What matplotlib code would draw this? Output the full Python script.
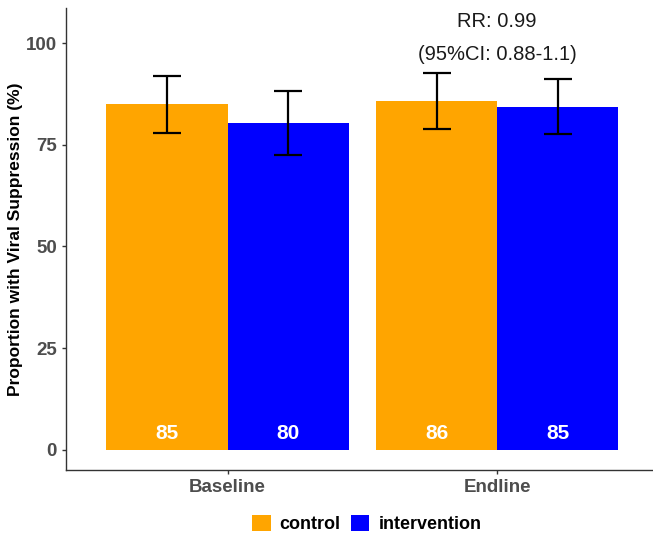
import matplotlib.pyplot as plt
from matplotlib.patches import Patch
import numpy as np

plt.rcParams['font.family'] = ['Liberation Sans', 'DejaVu Sans']

# data
periods = ["Baseline", "Endline"]
groups = ["control", "intervention"]
colors = {"control": "#FFA500", "intervention": "#0000FF"}
values = {"control": [85, 86], "intervention": [80, 85]}
shown = {"control": [85.0, 85.7], "intervention": [80.4, 84.4]}
err_low = {"control": [77.8, 78.8], "intervention": [72.6, 77.7]}
err_high = {"control": [92.0, 92.6], "intervention": [88.3, 91.1]}
rr_lines = ["RR: 0.99", "(95%CI: 0.88-1.1)"]

fig = plt.figure(figsize=(6.53, 5.37), dpi=100)
ax = fig.add_axes([0.101, 0.125, 0.908, 0.86])

narrow = ['Liberation Sans Narrow', 'Liberation Sans', 'DejaVu Sans']

x = np.arange(1, len(periods) + 1)
width = 0.45
for i, g in enumerate(groups):
    pos = x + (i - 0.5) * width
    h = np.array(shown[g])
    ax.bar(pos, h, width=width, color=colors[g], label=g, zorder=2)
    lo = h - np.array(err_low[g])
    hi = np.array(err_high[g]) - h
    ax.errorbar(pos, h, yerr=[lo, hi], fmt="none", ecolor="black",
                elinewidth=1.6, capsize=10, capthick=1.6, zorder=3)
    for p, v in zip(pos, values[g]):
        ax.text(p, 4, str(v), ha="center", va="center", color="white",
                fontsize=15, fontweight="bold", family=narrow, zorder=4)

ax.text(2, 105.2, rr_lines[0], ha="center", va="center", fontsize=14.5,
        color="#1a1a1a")
ax.text(2, 97.1, rr_lines[1], ha="center", va="center", fontsize=14.5,
        color="#1a1a1a")

ax.set_xlim(0.4, 2.6)
ax.set_ylim(-4.9, 108.6)
ax.set_xticks(x)
ax.set_xticklabels(periods)
ax.set_yticks([0, 25, 50, 75, 100])
for lab in ax.get_xticklabels() + ax.get_yticklabels():
    lab.set_fontweight("bold")
    lab.set_fontsize(13.5)
    lab.set_color("#4D4D4D")
ax.tick_params(axis="both", color="#333333", length=3, width=1)
ax.spines["top"].set_visible(False)
ax.spines["right"].set_visible(False)
for s in ["left", "bottom"]:
    ax.spines[s].set_color("#333333")
    ax.spines[s].set_linewidth(1)
ax.set_ylabel("Proportion with Viral Suppression (%)", fontsize=12.5,
              fontweight="bold", color="black")
ax.yaxis.set_label_coords(-0.073, 0.5)

handles = [Patch(facecolor=colors[g], label=g) for g in groups]
leg = fig.legend(handles=handles, loc="center", bbox_to_anchor=(0.562, 0.024),
                 ncol=2, frameon=False, handlelength=1.0, handleheight=1.0,
                 handletextpad=0.5, columnspacing=0.6,
                 prop={"weight": "bold", "size": 13})

fig.savefig("out.png", dpi=100)
